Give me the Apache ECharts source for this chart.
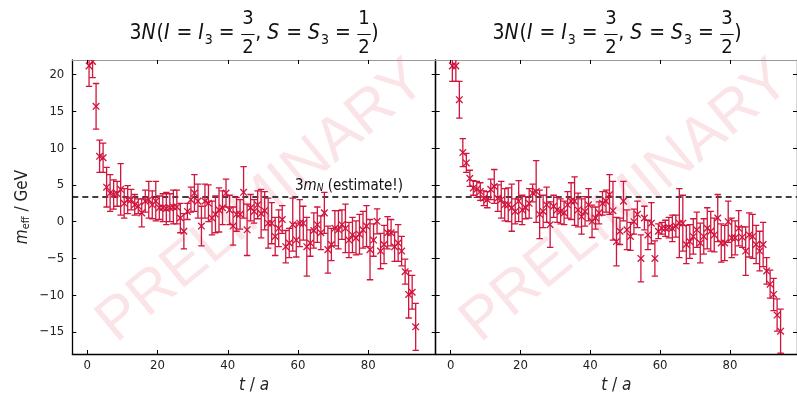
<!DOCTYPE html>
<html><head><meta charset="utf-8">
<script src="https://cdn.jsdelivr.net/npm/echarts@6/dist/echarts.min.js"></script>
<style>html,body{margin:0;padding:0;background:#fff}#c{width:797px;height:399px}</style>
</head><body><div id="c"></div>
<script>
// ---- data ----
const xTicks = [0, 20, 40, 60, 80];
const yTicks = [-15, -10, -5, 0, 5, 10, 15, 20];
const mN3 = 3.4; // 3 m_N estimate (GeV)

const tL = [0.5,1.5,2.5,3.5,4.5,5.5,6.5,7.5,8.5,9.5,10.5,11.5,12.5,13.5,14.5,15.5,16.5,17.5,18.5,19.5,
20.5,21.5,22.5,23.5,24.5,25.5,26.5,27.5,28.5,29.5,30.5,31.5,32.5,33.5,34.5,35.5,36.5,37.5,38.5,39.5,
40.5,41.5,42.5,43.5,44.5,45.5,46.5,47.5,48.5,49.5,50.5,51.5,52.5,53.5,54.5,55.5,56.5,57.5,58.5,59.5,
60.5,61.5,62.5,63.5,64.5,65.5,66.5,67.5,68.5,69.5,70.5,71.5,72.5,73.5,74.5,75.5,76.5,77.5,78.5,79.5,
80.5,81.5,82.5,83.5,84.5,85.5,86.5,87.5,88.5,89.5,90.5,91.5,92.5,93.5];
const vL = [21.2,21.8,15.7,8.9,8.7,4.7,3.9,3.7,3.8,4.4,2.5,3.0,3.0,2.3,2.1,1.2,2.8,3.0,2.3,2.8,
1.9,1.9,1.8,1.9,2.0,2.0,0.5,-1.3,1.4,3.0,3.9,2.8,-0.6,2.8,2.5,0.5,1.0,1.6,1.9,3.9,
1.6,-0.6,1.0,1.0,4.0,-1.1,1.9,1.4,2.3,1.1,1.5,-0.2,-0.2,-2.0,-0.9,0.3,-3.4,-2.9,-0.4,-2.5,
-0.2,-0.2,-3.4,-2.9,-1.2,-0.4,-1.5,1.2,-3.8,-3.1,-0.9,-1.1,-0.4,-0.9,-2.5,-1.8,-2.2,-1.7,-1.1,-0.6,
-3.8,-2.5,0.05,-4.0,-3.1,-1.5,-1.5,-3.4,-2.9,-4.0,-6.8,-9.9,-9.6,-14.3];
const eL = [2.8,2.2,3.1,2.2,2.0,2.7,2.5,2.0,1.7,3.5,2.0,1.9,1.4,1.4,1.0,1.9,1.5,2.5,1.9,2.7,
1.6,1.9,2.2,1.9,2.3,2.3,2.0,2.4,1.1,1.7,2.5,2.3,2.7,2.3,2.5,2.3,2.5,3.0,2.3,1.9,
2.0,2.6,2.3,2.0,3.5,3.5,1.8,1.6,1.9,3.3,2.6,3.4,2.8,2.6,2.5,1.9,2.2,2.0,3.6,2.3,
3.2,2.3,4.0,1.8,2.4,2.4,2.3,2.8,3.2,2.2,2.4,2.6,2.0,3.3,2.4,2.4,2.3,2.7,2.5,2.8,
4.1,2.2,1.7,2.4,2.6,2.2,1.8,2.0,2.5,2.0,1.7,3.2,2.3,3.2];

const tR = [0.5,1.5,2.5,3.5,4.5,5.5,6.5,7.5,8.5,9.5,10.5,11.5,12.5,13.5,14.5,15.5,16.5,17.5,18.5,19.5,
20.5,21.5,22.5,23.5,24.5,25.5,26.5,27.5,28.5,29.5,30.5,31.5,32.5,33.5,34.5,35.5,36.5,37.5,38.5,39.5,
40.5,41.5,42.5,43.5,44.5,45.5,46.5,47.5,48.5,49.5,50.5,51.5,52.5,53.5,54.5,55.5,56.5,57.5,58.5,59.5,
60.5,61.5,62.5,63.5,64.5,65.5,66.5,67.5,68.5,69.5,70.5,71.5,72.5,73.5,74.5,75.5,76.5,77.5,78.5,79.5,
80.5,81.5,82.5,83.5,84.5,85.5,86.5,87.5,88.5,89.5,90.5,91.5,92.5,93.5,94.5];
const vR = [21.2,21.2,16.6,9.4,8.0,5.9,4.6,4.4,4.1,3.2,3.0,4.4,4.8,3.2,3.0,2.3,2.3,1.9,1.4,2.8,
1.6,1.9,2.5,3.9,4.1,1.0,1.4,2.3,-0.4,2.1,1.6,1.4,1.2,2.3,2.8,2.8,1.6,0.7,1.4,2.3,
0.05,0.5,1.2,2.5,2.8,3.7,1.5,-2.7,-1.3,2.8,-1.1,-2.0,0.0,1.0,-5.0,0.5,-1.8,-0.2,-5.0,-1.3,
-0.9,-0.9,-0.8,-0.9,-0.6,-0.2,-0.2,-3.1,-2.7,-2.0,-1.1,-2.9,-2.0,-0.9,-1.3,-1.8,0.5,-2.9,-2.9,0.0,
-2.2,-2.2,-0.9,-2.1,-4.0,-1.8,-2.0,-3.1,-4.0,-3.1,-6.7,-8.5,-9.9,-12.7,-14.9];
const eR = [2.1,2.1,2.5,1.9,1.3,1.1,1.0,1.1,1.2,1.0,1.1,1.4,2.3,1.8,2.5,2.2,2.3,3.2,1.7,2.8,
2.0,1.5,2.0,1.2,4.2,3.3,2.2,2.4,3.1,1.5,1.7,1.7,1.6,1.8,2.5,3.3,2.3,2.4,2.0,2.2,
2.2,1.5,1.5,1.6,1.5,2.7,4.0,3.3,1.8,2.7,2.7,1.9,1.7,1.8,3.2,1.6,2.0,2.8,2.4,1.0,
0.8,1.1,1.4,1.8,1.5,4.7,3.8,2.6,2.3,2.4,2.4,2.7,2.4,2.8,2.7,2.3,3.2,2.6,2.4,2.8,
2.7,2.3,2.4,1.4,3.3,3.0,3.0,2.6,2.7,3.0,1.8,1.9,2.2,2.2,3.0];

// ---- style ----
const FONT = "'Liberation Sans Narrow','DejaVu Sans Condensed','Liberation Sans',sans-serif";
const RED = '#d0143c';
const X_MIN = -4.27, X_MAX = 99.2, Y_MIN = -18, Y_MAX = 22;
const fmtY = v => (v < 0 ? '\u2212' + Math.abs(v) : String(v));

const chart = echarts.init(document.getElementById('c'), null, {renderer: 'canvas'});

function renderErr(params, api) {
  const x = api.value(0), y = api.value(1), e = api.value(2);
  const p = api.coord([x, y]), hi = api.coord([x, y + e]), lo = api.coord([x, y - e]);
  const c = 3.2, m = 3.3;
  const st = {stroke: RED, lineWidth: 1.3};
  const cs = params.coordSys;
  return {
    type: 'group',
    clipPath: {type: 'rect', shape: {x: cs.x, y: cs.y, width: cs.width, height: cs.height}},
    children: [
      {type: 'line', shape: {x1: p[0], y1: hi[1], x2: p[0], y2: lo[1]}, style: st},
      {type: 'line', shape: {x1: p[0] - c, y1: hi[1], x2: p[0] + c, y2: hi[1]}, style: st},
      {type: 'line', shape: {x1: p[0] - c, y1: lo[1], x2: p[0] + c, y2: lo[1]}, style: st},
      {type: 'line', shape: {x1: p[0] - m, y1: p[1] - m, x2: p[0] + m, y2: p[1] + m}, style: st},
      {type: 'line', shape: {x1: p[0] - m, y1: p[1] + m, x2: p[0] + m, y2: p[1] - m}, style: st}
    ]
  };
}

const tickStyle = {color: '#000', width: 1};
function xAxesFor(gi) {
  return [
    {gridIndex: gi, type: 'value', position: 'bottom', min: X_MIN, max: X_MAX,
     axisLine: {onZero: false, lineStyle: {color: '#000', width: 1.3}},
     axisTick: {inside: true, length: 4, customValues: xTicks, lineStyle: tickStyle},
     axisLabel: {customValues: xTicks, margin: 5, fontSize: 13, color: '#222', fontFamily: FONT},
     splitLine: {show: false},
     name: '{i|t} / {i|a}', nameLocation: 'middle', nameGap: 19,
     nameTextStyle: {fontSize: 17, color: '#222', fontFamily: FONT,
       rich: {i: {fontStyle: 'italic', fontSize: 17, color: '#222', fontFamily: FONT}}}},
    {gridIndex: gi, type: 'value', position: 'top', min: X_MIN, max: X_MAX,
     axisLine: {onZero: false, lineStyle: {color: '#999', width: 1}},
     axisTick: {inside: true, length: 4, customValues: xTicks, lineStyle: tickStyle},
     axisLabel: {show: false}, splitLine: {show: false}}
  ];
}
function yAxesFor(gi, labels) {
  const left = {gridIndex: gi, type: 'value', position: 'left', min: Y_MIN, max: Y_MAX,
     axisLine: {onZero: false, show: true, lineStyle: {color: '#000', width: 1.3}},
     axisTick: {show: true, inside: true, length: 4, customValues: yTicks, lineStyle: tickStyle},
     axisLabel: {show: labels, customValues: yTicks, margin: 8, fontSize: 13, color: '#222',
       fontFamily: FONT, formatter: fmtY},
     splitLine: {show: false}};
  if (labels) {
    left.name = '{i|m}{s|eff} / GeV';
    left.nameLocation = 'middle';
    left.nameGap = 41;
    left.nameTextStyle = {fontSize: 17, color: '#222', fontFamily: FONT,
      rich: {i: {fontStyle: 'italic', fontSize: 17, color: '#222', fontFamily: FONT},
             s: {fontSize: 11, color: '#222', fontFamily: FONT, verticalAlign: 'bottom', lineHeight: 10}}};
  }
  const right = {gridIndex: gi, type: 'value', position: 'right', min: Y_MIN, max: Y_MAX,
     axisLine: {onZero: false, show: true, lineStyle: {color: '#000', width: 1.3}},
     axisTick: {show: true, inside: true, length: 4, customValues: yTicks, lineStyle: tickStyle},
     axisLabel: {show: false}, splitLine: {show: false}};
  return [left, right];
}

// ---- title built from text pieces ----
function titleElements(cx, num2) {
  const ctx = document.createElement('canvas').getContext('2d');
  const S = 21, SUB = 14, FR = 20;
  const font = (it, s) => (it ? 'italic ' : '') + s + 'px ' + FONT;
  const items = [
    {t: '3'}, {t: 'N', it: 1}, {t: '('}, {t: 'I', it: 1}, {t: ' = '}, {t: 'I', it: 1}, {sub: '3'},
    {t: ' = '}, {frac: ['3', '2']}, {t: ', '}, {t: 'S', it: 1}, {t: ' = '}, {t: 'S', it: 1},
    {sub: '3'}, {t: ' = '}, {frac: [num2, '2']}, {t: ')'}
  ];
  items.forEach(o => {
    if (o.frac) { ctx.font = font(0, FR); o.w = Math.max(ctx.measureText(o.frac[0]).width, ctx.measureText(o.frac[1]).width) + 3; }
    else if (o.sub) { ctx.font = font(0, SUB); o.w = ctx.measureText(o.sub).width; }
    else { ctx.font = font(o.it, S); o.w = ctx.measureText(o.t).width + (o.it ? 1 : 0); }
  });
  const total = items.reduce((a, o) => a + o.w, 0);
  let x = cx - total / 2;
  const els = [];
  const MID = 34, NUM = 19, DEN = 48, BAR = 34.5;
  items.forEach(o => {
    if (o.frac) {
      els.push({type: 'text', x: x + o.w / 2, y: NUM, style: {text: o.frac[0], fontSize: FR, fontFamily: FONT, fill: '#111', align: 'center', verticalAlign: 'middle'}});
      els.push({type: 'text', x: x + o.w / 2, y: DEN, style: {text: o.frac[1], fontSize: FR, fontFamily: FONT, fill: '#111', align: 'center', verticalAlign: 'middle'}});
      els.push({type: 'line', shape: {x1: x + 0.5, y1: BAR, x2: x + o.w - 0.5, y2: BAR}, style: {stroke: '#111', lineWidth: 1}});
    } else if (o.sub) {
      els.push({type: 'text', x: x, y: MID + 6, style: {text: o.sub, fontSize: SUB, fontFamily: FONT, fill: '#111', align: 'left', verticalAlign: 'middle'}});
    } else {
      els.push({type: 'text', x: x, y: MID, style: {text: o.t, fontSize: S, fontFamily: FONT, fontStyle: o.it ? 'italic' : 'normal', fill: '#111', align: 'left', verticalAlign: 'middle'}});
    }
    x += o.w;
  });
  return els;
}

const wmStyle = {text: 'PRELIMINARY', fontSize: 60, fontFamily: "'Liberation Sans',sans-serif",
  fill: 'rgba(225,30,60,0.12)', align: 'center', verticalAlign: 'middle'};

const option = {
  backgroundColor: '#fff',
  animation: false,
  grid: [
    {left: 72.3, top: 60, width: 363.4, height: 294},
    {left: 435.7, top: 60, width: 363.3, height: 294}
  ],
  xAxis: [...xAxesFor(0), ...xAxesFor(1)],
  yAxis: [...yAxesFor(0, true), ...yAxesFor(1, false)],
  series: [
    {type: 'custom', xAxisIndex: 0, yAxisIndex: 0, z: 5, renderItem: renderErr,
     data: tL.map((t, i) => [t, vL[i], eL[i]]),
     markLine: {silent: true, symbol: 'none', label: {show: false},
       lineStyle: {color: '#000', type: [6, 4], width: 1.5}, data: [{yAxis: mN3}]}},
    {type: 'custom', xAxisIndex: 2, yAxisIndex: 2, z: 5, renderItem: renderErr,
     data: tR.map((t, i) => [t, vR[i], eR[i]]),
     markLine: {silent: true, symbol: 'none', label: {show: false},
       lineStyle: {color: '#000', type: [6, 4], width: 1.5}, data: [{yAxis: mN3}]}}
  ],
  graphic: {elements: [
    {type: 'text', x: 262, y: 202, rotation: 0.69, z: 0, style: wmStyle},
    {type: 'text', x: 626, y: 202, rotation: 0.69, z: 0, style: wmStyle},
    ...titleElements(254, '1'),
    ...titleElements(617, '3')
  ]}
};
chart.setOption(option);

// label for the 3 m_N line, placed just above the line in the left panel
const yLine = chart.convertToPixel({gridIndex: 0}, [0, mN3])[1];
chart.setOption({graphic: {elements: option.graphic.elements.concat([
  {type: 'text', x: 403, y: yLine - 3, z: 10,
   style: {text: '{n|3}{i|m}{s|N}{n| (estimate!)}', align: 'right', verticalAlign: 'bottom',
     fontSize: 15, fontFamily: FONT, fill: '#111',
     rich: {n: {fontSize: 15, fontFamily: FONT, fill: '#111'},
            i: {fontSize: 15, fontStyle: 'italic', fontFamily: FONT, fill: '#111'},
            s: {fontSize: 10, fontStyle: 'italic', fontFamily: FONT, fill: '#111', verticalAlign: 'bottom', lineHeight: 8}}}}
])}});
</script></body></html>
